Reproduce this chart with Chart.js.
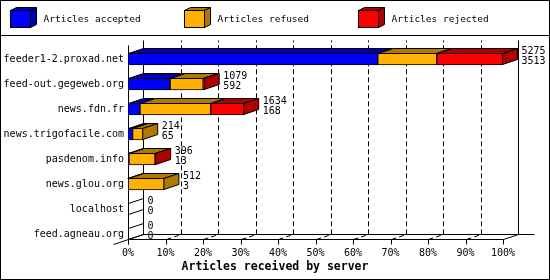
<!DOCTYPE html>
<html>
<head>
<meta charset="utf-8">
<script src="https://cdn.jsdelivr.net/npm/chart.js@4/dist/chart.umd.min.js"></script>
<style>
  html, body { margin: 0; padding: 0; background: #fff; }
  canvas { display: block; }
</style>
</head>
<body>
<canvas id="chart" width="550" height="280"></canvas>
<script>
// articles per server
const servers = ['feeder1-2.proxad.net', 'feed-out.gegeweb.org', 'news.fdn.fr', 'news.trigofacile.com',
                 'pasdenom.info', 'news.glou.org', 'localhost', 'feed.agneau.org'];
const accepted = [3513, 592, 168, 65, 13, 3, 0, 0];
const refused  = [830, 465, 996, 149, 367, 509, 0, 0];
const rejected = [932, 22, 470, 0, 16, 0, 0, 0];
const seriesNames = ['Articles accepted', 'Articles refused', 'Articles rejected'];
const xTicks = [0, 10, 20, 30, 40, 50, 60, 70, 80, 90, 100];

const frontColors = ['#0000ff', '#ffb000', '#ff0000'];
const darkColors  = ['#0000b0', '#b07800', '#b00000'];
const FONT = 'DejaVu Sans Mono';
const DX = 15, DY = 5;   // 3d depth

const series = [accepted, refused, rejected];
const totals = servers.map((s, i) => accepted[i] + refused[i] + rejected[i]);
const maxTotal = Math.max(...totals);
const toPct = arr => arr.map(v => v / maxTotal * 100);

function line(ctx, pts) {
    ctx.beginPath();
    ctx.moveTo(pts[0][0], pts[0][1]);
    for (let i = 1; i < pts.length; i++) ctx.lineTo(pts[i][0], pts[i][1]);
    ctx.stroke();
}

function poly(ctx, pts, fill) {
    ctx.beginPath();
    ctx.moveTo(pts[0][0], pts[0][1]);
    for (let i = 1; i < pts.length; i++) ctx.lineTo(pts[i][0], pts[i][1]);
    ctx.closePath();
    if (fill) { ctx.fillStyle = fill; ctx.fill(); }
    ctx.stroke();
}

// back walls, floor and grid
const frame3d = {
    id: 'frame3d',
    beforeDatasetsDraw(chart) {
        const { ctx, scales: { x, y } } = chart;
        const x0 = Math.round(x.getPixelForValue(0)) + 0.5;
        const x100 = Math.round(x.getPixelForValue(100)) + 0.5;
        const top = Math.round(y.getPixelForValue(0)) - 14 + 0.5;
        const floor = Math.round(y.getPixelForValue(servers.length - 1)) + 6 - 0.5;
        ctx.save();
        ctx.strokeStyle = '#000';
        ctx.lineWidth = 1;

        ctx.setLineDash([5, 3]);
        xTicks.slice(1, -1).forEach(t => {
            const px = Math.round(x.getPixelForValue(t)) + 0.5;
            line(ctx, [[px, floor], [px + DX, floor - DY], [px + DX, top - DY]]);
        });
        ctx.setLineDash([]);

        line(ctx, [[x0 + DX, top - DY], [x0 + DX, floor - DY], [x100 + DX + 16, floor - DY]]);
        line(ctx, [[x100 + DX, top - DY], [x100 + DX, floor - DY]]);
        line(ctx, [[x0, top], [x0, floor + 5]]);
        line(ctx, [[x0, floor], [x100, floor]]);
        line(ctx, [[x0 - DX, floor + DY], [x0 + DX, floor - DY]]);
        line(ctx, [[x100, floor], [x100 + DX, floor - DY]]);
        xTicks.forEach(t => {
            const px = Math.round(x.getPixelForValue(t)) + 0.5;
            line(ctx, [[px, floor], [px, floor + 5]]);
        });
        ctx.restore();
    },
    afterDatasetsDraw(chart) {
        const { ctx, scales: { x } } = chart;
        const x0 = x.getPixelForValue(0);
        ctx.save();
        ctx.strokeStyle = '#000';
        ctx.lineWidth = 1;
        servers.forEach((s, i) => {
            let last = -1;
            let top = 0, bottom = 0, end = x0;
            series.forEach((arr, d) => {
                const el = chart.getDatasetMeta(d).data[i];
                const p = el.getProps(['x', 'y', 'base', 'height'], true);
                top = p.y - p.height / 2 + 0.5;
                bottom = p.y + p.height / 2 - 0.5;
                if (arr[i] > 0) {
                    const a = p.base + 0.5, b = p.x - 0.5;
                    poly(ctx, [[a, top], [b, top], [b + DX, top - DY], [a + DX, top - DY]], darkColors[d]);
                    last = d;
                    end = b;
                }
            });
            if (last >= 0) {
                poly(ctx, [[end, top], [end + DX, top - DY], [end + DX, bottom - DY], [end, bottom]], darkColors[last]);
            } else {
                end = x0 + 0.5;
                poly(ctx, [[end, top], [end + DX, top - DY], [end + DX, bottom - DY], [end, bottom]], null);
            }
            ctx.fillStyle = '#000';
            ctx.font = '10px "' + FONT + '"';
            ctx.textAlign = 'left';
            ctx.textBaseline = 'middle';
            ctx.fillText(String(totals[i]), end + DX + 4, top - DY + 2.5);
            ctx.fillText(String(accepted[i]), end + DX + 4, top - DY + 13);
        });
        ctx.restore();
    },
    afterDraw(chart) {
        const ctx = chart.ctx;
        ctx.save();
        ctx.strokeStyle = '#000';
        ctx.lineWidth = 1;
        ctx.strokeRect(0.5, 0.5, 549, 279);
        line(ctx, [[0, 35.5], [550, 35.5]]);
        seriesNames.forEach((name, d) => {
            const bx = 10.5 + d * 174, by = 10.5, w = 20, h = 17, dx = 6, dy = 3;
            poly(ctx, [[bx, by], [bx + w, by], [bx + w + dx, by - dy], [bx + dx, by - dy]], darkColors[d]);
            poly(ctx, [[bx + w, by], [bx + w + dx, by - dy], [bx + w + dx, by + h - dy], [bx + w, by + h]], darkColors[d]);
            ctx.fillStyle = frontColors[d];
            ctx.fillRect(bx, by, w, h);
            ctx.strokeRect(bx, by, w, h);
            ctx.fillStyle = '#000';
            ctx.font = '9.5px "' + FONT + '"';
            ctx.textAlign = 'left';
            ctx.textBaseline = 'middle';
            ctx.fillText(name, bx + 33, 20);
        });
        ctx.restore();
    }
};

new Chart(document.getElementById('chart'), {
    type: 'bar',
    data: {
        labels: servers,
        datasets: series.map((arr, d) => ({
            label: seriesNames[d],
            data: toPct(arr),
            backgroundColor: frontColors[d],
            borderColor: '#000',
            borderWidth: 1,
            borderSkipped: false,
            barThickness: 12
        }))
    },
    options: {
        indexAxis: 'y',
        responsive: false,
        animation: false,
        layout: { padding: { top: 46.5, left: 0, right: 0, bottom: 0 } },
        plugins: {
            legend: { display: false },
            tooltip: { enabled: false },
            title: {
                display: true,
                position: 'bottom',
                text: 'Articles received by server',
                color: '#000',
                font: { family: FONT, size: 11.5, weight: 'bold' },
                padding: { top: 1.7, bottom: 6 }
            }
        },
        scales: {
            x: {
                stacked: true,
                min: 0,
                max: 100,
                afterBuildTicks: s => { s.ticks = xTicks.map(v => ({ value: v })); },
                afterFit: s => { s.height = 12; },
                grid: { display: false, drawTicks: false },
                border: { display: false },
                ticks: {
                    autoSkip: false,
                    maxRotation: 0,
                    padding: 1,
                    color: '#000',
                    font: { family: FONT, size: 10 },
                    callback: v => v + '%'
                }
            },
            y: {
                stacked: true,
                afterFit: s => { s.width = 128; },
                grid: { display: false, drawTicks: false },
                border: { display: false },
                ticks: {
                    padding: 4,
                    color: '#000',
                    font: { family: FONT, size: 10 }
                }
            },
            yRight: {
                type: 'linear',
                position: 'right',
                afterFit: s => { s.width = 47; },
                grid: { display: false, drawTicks: false },
                border: { display: false },
                ticks: { display: false }
            }
        }
    },
    plugins: [frame3d]
});
</script>
</body>
</html>
